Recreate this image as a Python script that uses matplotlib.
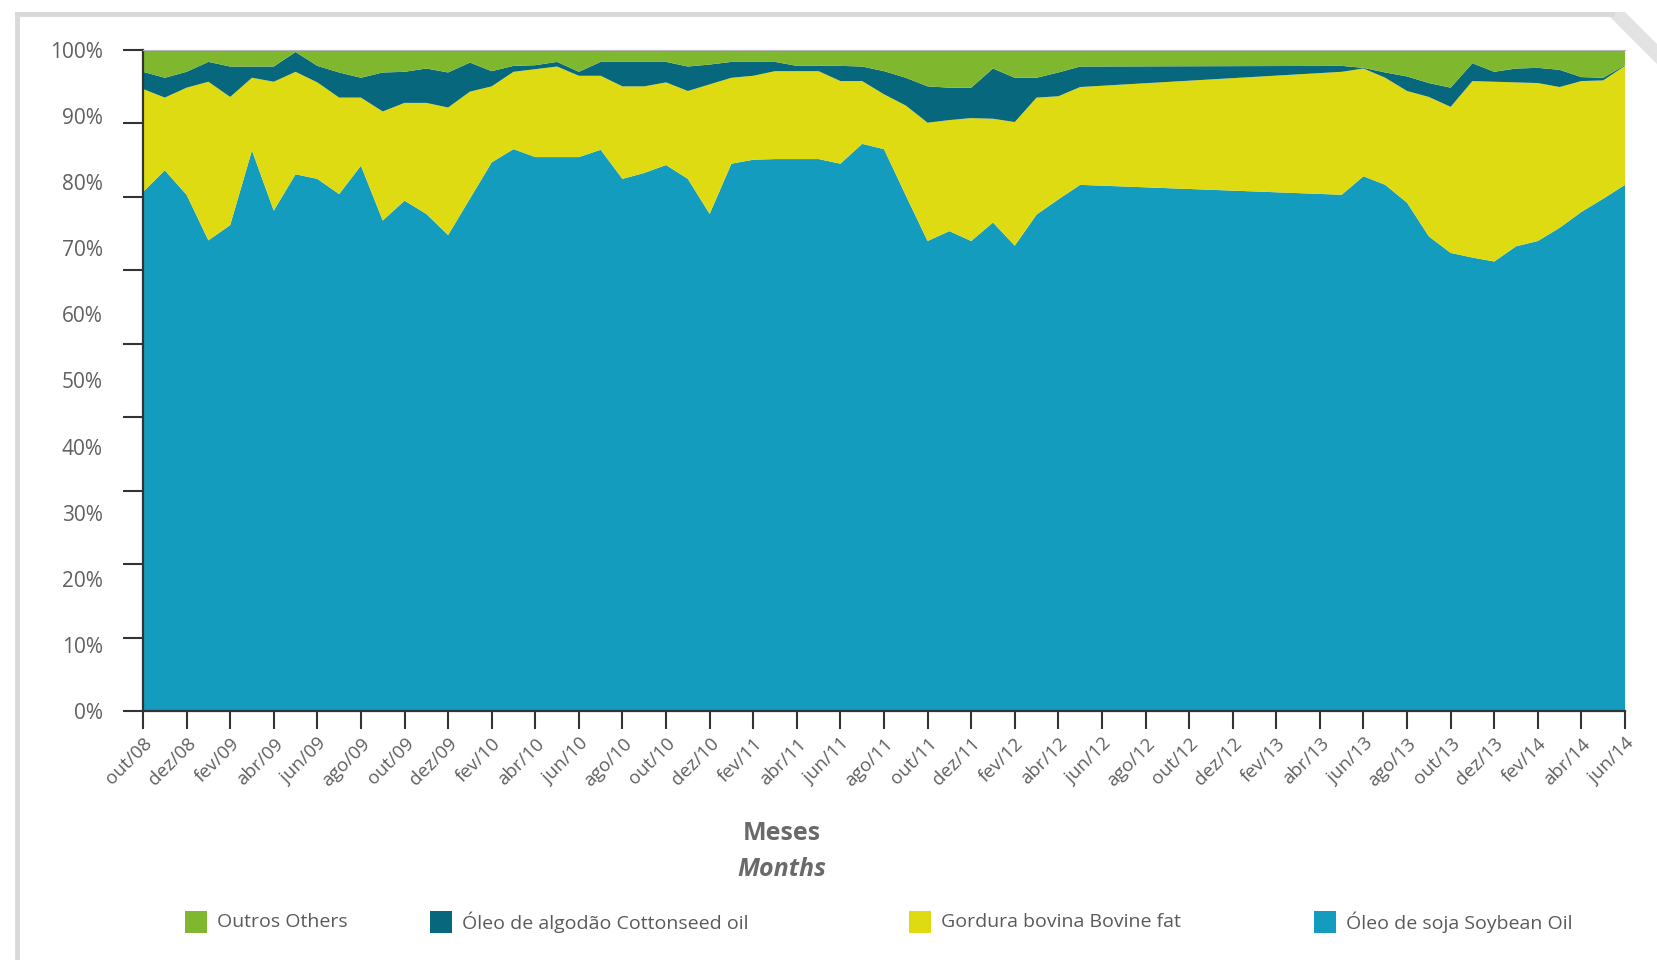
import numpy as np
import matplotlib
matplotlib.use("Agg")
import matplotlib.pyplot as plt
from matplotlib.patches import Rectangle, Polygon
from matplotlib.lines import Line2D

plt.rcParams['font.family'] = ['Open Sans', 'DejaVu Sans']

# ---------------- data ----------------
# month index (0 = out/08 ... 68 = jun/14); no data between jun/12 and abr/13
month_idx = list(range(0, 44)) + list(range(55, 69))

soja = [78.5, 81.8, 78.1, 71.2, 73.5, 84.8, 75.7, 81.2, 80.5, 78.2,
        82.5, 74.2, 77.2, 75.2, 72.0, 77.5, 83.0, 85.0, 83.8, 83.8,
        83.8, 84.9, 80.5, 81.4, 82.6, 80.5, 75.2, 82.8, 83.4, 83.5,
        83.5, 83.5, 82.8, 85.8, 85.0, 78.0, 71.1, 72.6, 71.1, 73.9,
        70.4, 75.1, 77.4, 79.6,
        78.1, 80.9, 79.6, 76.9, 71.8, 69.3, 68.6, 68.0, 70.3, 71.1,
        73.1, 75.5, 77.5, 79.6]
bovina = [15.6, 11.0, 16.2, 24.0, 19.4, 11.0, 19.5, 15.5, 14.6, 14.6,
          10.3, 16.5, 14.8, 16.8, 19.3, 16.2, 11.5, 11.7, 13.3, 13.7,
          12.3, 11.2, 14.0, 13.1, 12.5, 13.3, 19.6, 13.0, 12.7, 13.3,
          13.3, 13.3, 12.5, 9.5, 8.3, 13.6, 17.9, 16.8, 18.6, 15.7,
          18.7, 17.7, 15.6, 14.8,
          18.6, 16.3, 16.2, 16.9, 21.1, 22.1, 26.7, 27.2, 24.8, 23.9,
          21.3, 19.8, 17.9, 18.0]
algodao = [2.6, 3.0, 2.4, 3.0, 4.6, 1.7, 2.3, 3.0, 2.5, 3.8,
           3.0, 5.9, 4.7, 5.2, 5.3, 4.4, 2.3, 0.9, 0.6, 0.7,
           0.6, 2.1, 3.7, 3.7, 3.1, 3.7, 3.0, 2.4, 2.1, 1.4,
           0.8, 0.8, 2.3, 2.2, 3.5, 4.2, 5.5, 4.9, 4.6, 7.6,
           6.7, 3.0, 3.6, 3.1,
           0.9, 0.1, 0.8, 2.2, 2.1, 2.9, 2.7, 1.5, 2.1, 2.3,
           2.6, 0.6, 0.4, 0.1]
outros = [3.3, 4.2, 3.3, 1.8, 2.5, 2.5, 2.5, 0.3, 2.4, 3.4,
          4.2, 3.4, 3.3, 2.8, 3.4, 1.9, 3.2, 2.4, 2.3, 1.8,
          3.3, 1.8, 1.8, 1.8, 1.8, 2.5, 2.2, 1.8, 1.8, 1.8,
          2.4, 2.4, 2.4, 2.5, 3.2, 4.2, 5.5, 5.7, 5.7, 2.8,
          4.2, 4.2, 3.4, 2.5,
          2.4, 2.7, 3.4, 4.0, 5.0, 5.7, 2.0, 3.3, 2.8, 2.7,
          3.0, 4.1, 4.2, 2.3]

tick_labels = ['out/08', 'dez/08', 'fev/09', 'abr/09', 'jun/09', 'ago/09', 'out/09',
               'dez/09', 'fev/10', 'abr/10', 'jun/10', 'ago/10', 'out/10', 'dez/10',
               'fev/11', 'abr/11', 'jun/11', 'ago/11', 'out/11', 'dez/11', 'fev/12',
               'abr/12', 'jun/12', 'ago/12', 'out/12', 'dez/12', 'fev/13', 'abr/13',
               'jun/13', 'ago/13', 'out/13', 'dez/13', 'fev/14', 'abr/14', 'jun/14']
y_labels = ['0%', '10%', '20%', '30%', '40%', '50%', '60%', '70%', '80%', '90%', '100%']

series_names = ['Outros Others', 'Óleo de algodão Cottonseed oil',
                'Gordura bovina Bovine fat', 'Óleo de soja Soybean Oil']

c_outros = '#7fb82e'
c_algodao = '#06677d'
c_bovina = '#dfdb13'
c_soja = '#139cbd'

# ---------------- figure ----------------
W, H = 1657, 960
fig = plt.figure(figsize=(W / 100, H / 100), dpi=100)
fig.patch.set_facecolor('white')

left, right, top, bottom = 143, 1625, 50, 711
ax = fig.add_axes([left / W, 1 - bottom / H, (right - left) / W, (bottom - top) / H])

x = np.array(month_idx)
ax.stackplot(x, soja, bovina, algodao, outros,
             colors=[c_soja, c_bovina, c_algodao, c_outros], linewidth=0)

ax.set_xlim(0, 68)
ax.set_ylim(0, 100)

# spines
for s in ['right']:
    ax.spines[s].set_visible(False)
ax.spines['top'].set_color('#b5b5b5')
ax.spines['top'].set_linewidth(0.8)
ax.spines['left'].set_color('#333333')
ax.spines['left'].set_linewidth(1.6)
ax.spines['bottom'].set_color('#333333')
ax.spines['bottom'].set_linewidth(1.6)

# x ticks
ax.set_xticks(np.arange(0, 69, 2))
ax.set_xticklabels(tick_labels, rotation=45, ha='right', va='top',
                   rotation_mode='anchor', fontsize=13.5, color='#606060')
ax.tick_params(axis='x', length=13, width=1.5, color='#333333', pad=4)

# y: tick marks at 9 intervals, labels at 10% steps (as in the reference)
ax.yaxis.remove_overlapping_locs = False
ax.set_yticks(np.linspace(0, 100, 10))
ax.set_yticklabels([''] * 10)
ax.tick_params(axis='y', which='major', length=14.5, width=1.5, color='#333333')
ax.set_yticks(np.arange(0, 101, 10), minor=True)
ax.set_yticklabels(y_labels, minor=True, fontsize=15, color='#606060')
ax.tick_params(axis='y', which='minor', length=0, pad=29)

# axis titles
fig.text(782 / W, 1 - 834 / H, 'Meses', ha='center', va='center',
         fontsize=18, fontweight='bold', color='#6a6a6a')
fig.text(782 / W, 1 - 869 / H, 'Months', ha='center', va='center',
         fontsize=18, fontweight='bold', fontstyle='italic', color='#6a6a6a')

# legend
leg_colors = [c_outros, c_algodao, c_bovina, c_soja]
sq_x = [185, 430, 909, 1314]
ly = 922
sq = 22
for name, col, sx in zip(series_names, leg_colors, sq_x):
    fig.add_artist(Rectangle((sx / W, 1 - (ly + sq / 2) / H), sq / W, sq / H,
                             transform=fig.transFigure, facecolor=col, edgecolor='none'))
    fig.text((sx + sq + 10) / W, 1 - ly / H, name, ha='left', va='center',
             fontsize=14, color='#5a5a5a')

# frame (page border)
fig.add_artist(Line2D([17 / W, 17 / W], [0, 1 - 14 / H], transform=fig.transFigure,
                      color='#d9d9d9', linewidth=3.5))
fig.add_artist(Line2D([17 / W, 1612 / W], [1 - 14 / H, 1 - 14 / H], transform=fig.transFigure,
                      color='#d9d9d9', linewidth=3.5))
fig.add_artist(Polygon([[1605 / W, 1 - 12 / H], [1625 / W, 1 - 12 / H],
                        [1657 / W, 1 - 44 / H], [1657 / W, 1 - 64 / H]],
                       closed=True, transform=fig.transFigure,
                       facecolor='#e3e3e3', edgecolor='none'))

fig.savefig('out.png', dpi=100, facecolor='white')
